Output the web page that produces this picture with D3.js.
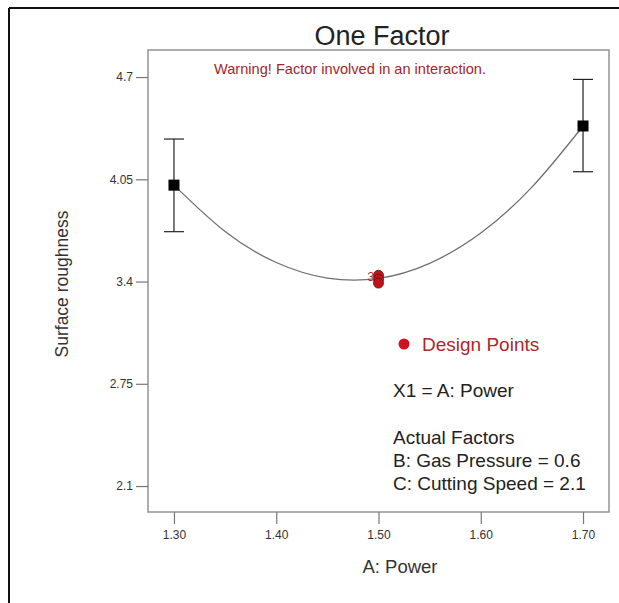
<!DOCTYPE html>
<html>
<head>
<meta charset="utf-8">
<script src="https://cdn.jsdelivr.net/npm/d3@7"></script>
<style>
  html, body { margin: 0; padding: 0; background: #fff; }
  svg { display: block; font-family: "Liberation Sans", Arial, sans-serif; }
</style>
</head>
<body>
<svg id="chart" width="619" height="603"></svg>
<script>
// ---- data ----
const title = "One Factor";
const warning = "Warning! Factor involved in an interaction.";
const xTicks = [1.30, 1.40, 1.50, 1.60, 1.70];
const yTicks = [2.1, 2.75, 3.4, 4.05, 4.7];
const yTickLabels = ["2.1", "2.75", "3.4", "4.05", "4.7"];
// fitted model curve
const curveX = [1.30, 1.35, 1.40, 1.45, 1.50, 1.55, 1.60, 1.65, 1.70];
const curveY = [4.013, 3.718, 3.521, 3.422, 3.420, 3.516, 3.709, 4.000, 4.389];
// mean points with intervals
const meanX = [1.30, 1.70];
const meanY = [4.013, 4.389];
const meanLow = [3.717, 4.098];
const meanHigh = [4.306, 4.685];
// design points at centre
const designX = [1.50, 1.50, 1.50];
const designY = [3.44, 3.415, 3.39];
const designCountLabel = "3";
const legendLines = ["X1 = A: Power", "", "Actual Factors", "B: Gas Pressure = 0.6", "C: Cutting Speed = 2.1"];

// ---- drawing ----
const svg = d3.select("#chart");
const L = 148, R = 609, T = 50, B = 512;
const x = d3.scaleLinear().domain([1.2746, 1.7254]).range([L, R]);
const y = d3.scaleLinear().domain([1.935, 4.872]).range([B, T]);

// outer border (top + left)
svg.append("line").attr("x1", 9).attr("x2", 619).attr("y1", 8).attr("y2", 8)
  .attr("stroke", "#111").attr("stroke-width", 2);
svg.append("line").attr("x1", 9).attr("x2", 9).attr("y1", 8).attr("y2", 603)
  .attr("stroke", "#111").attr("stroke-width", 2);

// title
svg.append("text").attr("x", 382).attr("y", 45).attr("text-anchor", "middle")
  .attr("font-size", 27).attr("fill", "#222").text(title);

// frame
svg.append("rect").attr("x", L).attr("y", T).attr("width", R - L).attr("height", B - T)
  .attr("fill", "#fff").attr("stroke", "#9a9a9a").attr("stroke-width", 1.6);

// axes
const xAxis = d3.axisBottom(x).tickValues(xTicks).tickFormat(d3.format(".2f"))
  .tickSize(12).tickPadding(6);
const gx = svg.append("g").attr("transform", `translate(0,${B})`).call(xAxis);
gx.select(".domain").remove();
gx.selectAll("line").attr("stroke", "#777").attr("stroke-width", 1.2);
gx.selectAll("text").attr("font-size", 12).attr("fill", "#333")
  .attr("font-family", "Liberation Sans, Arial, sans-serif");

const yAxis = d3.axisLeft(y).tickValues(yTicks).tickFormat((d, i) => yTickLabels[i])
  .tickSize(12).tickPadding(3);
const gy = svg.append("g").attr("transform", `translate(${L},0)`).call(yAxis);
gy.select(".domain").remove();
gy.selectAll("line").attr("stroke", "#777").attr("stroke-width", 1.2);
gy.selectAll("text").attr("font-size", 12).attr("fill", "#333")
  .attr("font-family", "Liberation Sans, Arial, sans-serif");

// axis titles
svg.append("text").attr("transform", "translate(68,284) rotate(-90)")
  .attr("text-anchor", "middle").attr("font-size", 17.5).attr("fill", "#333")
  .text("Surface roughness");
svg.append("text").attr("x", 400).attr("y", 573).attr("text-anchor", "middle")
  .attr("font-size", 18.5).attr("fill", "#333").text("A: Power");

// warning
svg.append("text").attr("x", 350).attr("y", 74).attr("text-anchor", "middle")
  .attr("font-size", 14.6).attr("fill", "#a3262b").text(warning);

// curve
const curvePts = curveX.map((d, i) => [d, curveY[i]]);
svg.append("path").datum(curvePts)
  .attr("d", d3.line().x(d => x(d[0])).y(d => y(d[1])).curve(d3.curveNatural))
  .attr("fill", "none").attr("stroke", "#707070").attr("stroke-width", 1.3);

// error bars
meanX.forEach((mx, i) => {
  const cx = x(mx);
  const g = svg.append("g").attr("stroke", "#222").attr("stroke-width", 1.2);
  g.append("line").attr("x1", cx).attr("x2", cx).attr("y1", y(meanHigh[i])).attr("y2", y(meanLow[i]));
  g.append("line").attr("x1", cx - 10).attr("x2", cx + 10).attr("y1", y(meanHigh[i])).attr("y2", y(meanHigh[i]));
  g.append("line").attr("x1", cx - 10).attr("x2", cx + 10).attr("y1", y(meanLow[i])).attr("y2", y(meanLow[i]));
  svg.append("rect").attr("x", cx - 5.5).attr("y", y(meanY[i]) - 5.5)
    .attr("width", 11).attr("height", 11).attr("fill", "#000");
});

// design points
svg.selectAll("circle.dp").data(designX).enter().append("circle")
  .attr("class", "dp")
  .attr("cx", d => x(d)).attr("cy", (d, i) => y(designY[i])).attr("r", 5)
  .attr("fill", "#c0141c").attr("stroke", "#6a0a0e").attr("stroke-width", 0.8);
svg.append("text").attr("x", x(designX[0]) - 4).attr("y", y(designY[0]) + 6)
  .attr("text-anchor", "end").attr("font-size", 13).attr("fill", "#b02a2e")
  .text(designCountLabel);

// legend
svg.append("circle").attr("cx", 404).attr("cy", 344).attr("r", 5.5).attr("fill", "#d0141c");
svg.append("text").attr("x", 422).attr("y", 351).attr("font-size", 19)
  .attr("fill", "#b0262b").text("Design Points");
const lineY = [397, 420, 444, 467, 490];
legendLines.forEach((t, i) => {
  if (!t) return;
  svg.append("text").attr("x", 393).attr("y", lineY[i]).attr("font-size", 19)
    .attr("fill", "#222").text(t);
});
</script>
</body>
</html>
